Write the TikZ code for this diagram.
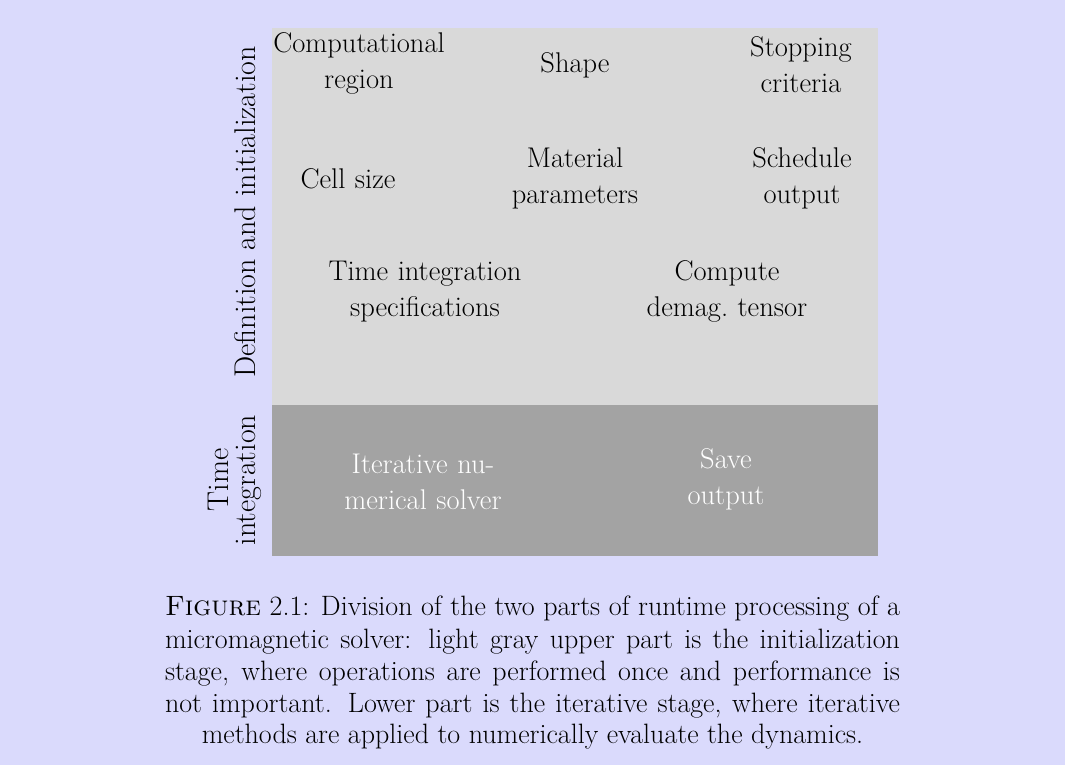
\documentclass[tikz,border=0pt]{standalone}
\usepackage{tikz}
\definecolor{pagebg}{HTML}{DADAFC}
\definecolor{initgray}{HTML}{D9D9D9}
\definecolor{itergray}{HTML}{A3A3A3}
\begin{document}
\begin{tikzpicture}[x=1pt,y=-1pt,
  item/.style={text width=240pt, align=center, anchor=base, inner sep=0pt,
    font=\fontsize{28.5}{36}\selectfont},
  darkitem/.style={item, text=white},
  sidelabel/.style={rotate=90, anchor=base, inner sep=0pt,
    font=\fontsize{30}{27}\selectfont},
  capline/.style={anchor=base, inner sep=0pt, font=\fontsize{28}{32}\selectfont}]

% page and the two stages
\fill[pagebg] (0,0) rectangle (1065,765);
\fill[initgray] (272,28) rectangle (878,405);
\fill[itergray] (272,405) rectangle (878,556);
\useasboundingbox (0,0) rectangle (1065,765);

% initialization stage
\node[item] (region)   at (359,53)  {Computational\\region};
\node[item] (shape)    at (575,73)  {Shape};
\node[item] (stopping) at (801,57)  {Stopping\\criteria};
\node[item] (cell)     at (348,188) {Cell size};
\node[item] (material) at (575,167) {Material\\parameters};
\node[item] (schedule) at (802,167) {Schedule\\output};
\node[item] (timespec) at (425,280) {Time integration\\specifications};
\node[item] (demag)    at (727,280) {Compute\\demag.\ tensor};

% iterative stage
\node[darkitem] (solver) at (423,473) {Iterative nu-\\merical solver};
\node[darkitem] (save)   at (726,468) {Save\\output};

% stage labels
\node[sidelabel] (initlabel) at (255,212) {Definition and initialization};
\node[sidelabel, text width=200pt, align=center] (iterlabel) at (228,480) {Time\\integration};

% caption
\node[capline] (cap1) at (532.5,615) {\makebox[735pt][s]{\textsc{Figure} 2.1: Division of the two parts of runtime processing of a}};
\node[capline] (cap2) at (532.5,648) {\makebox[735pt][s]{micromagnetic solver: light gray upper part is the initialization}};
\node[capline] (cap3) at (532.5,680) {\makebox[735pt][s]{stage, where operations are performed once and performance is}};
\node[capline] (cap4) at (532.5,712) {\makebox[735pt][s]{not important. Lower part is the iterative stage, where iterative}};
\node[capline] (cap5) at (532.5,743) {methods are applied to numerically evaluate the dynamics.};
\end{tikzpicture}
\end{document}
